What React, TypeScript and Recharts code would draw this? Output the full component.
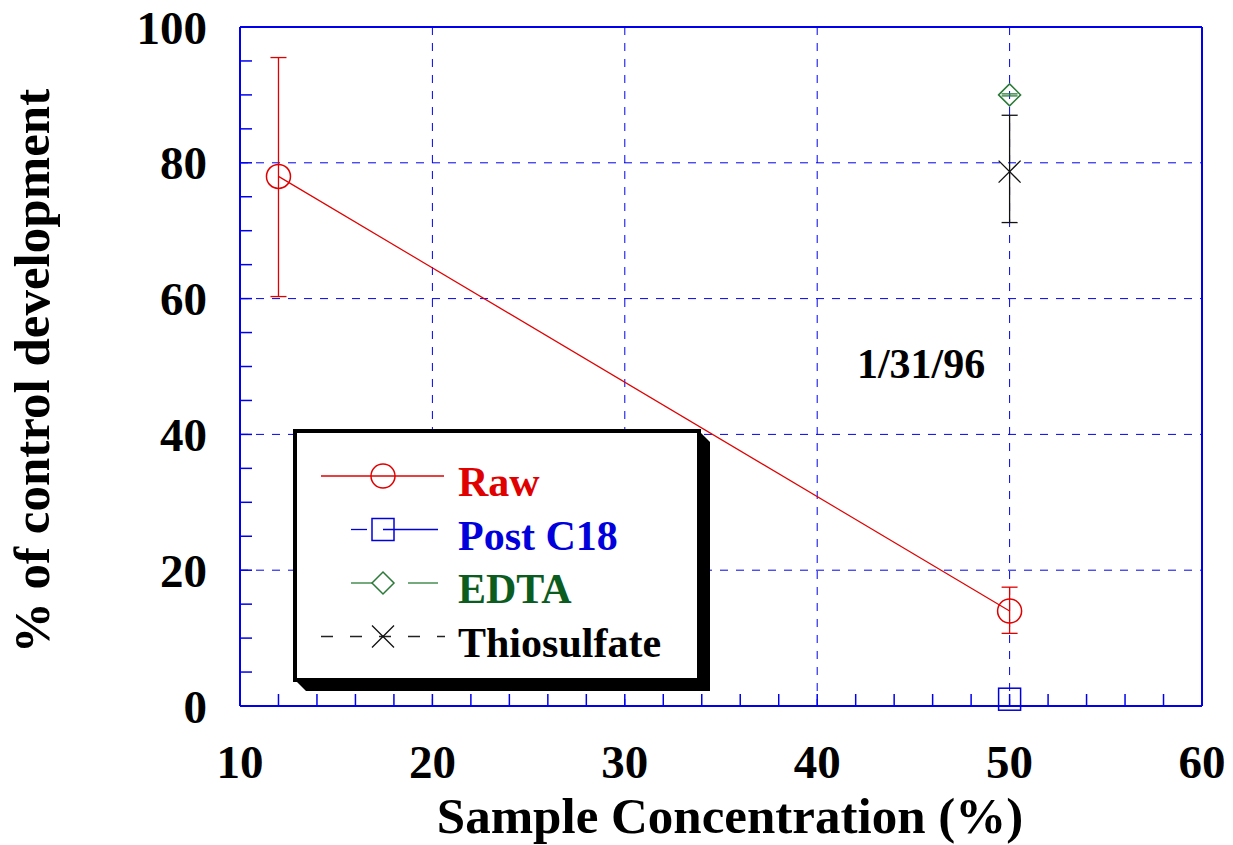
import React from 'react'
import { ComposedChart, Scatter, XAxis, YAxis, CartesianGrid, ErrorBar, Legend, ReferenceDot, Label } from 'recharts'

// values
const RAW_X = [12, 50]
const RAW_Y = [78, 14]
const RAW_LOW = [60.3, 10.7]
const RAW_HIGH = [95.5, 17.5]

const C18_X = [50]
const C18_Y = [1]

const EDTA_X = [50]
const EDTA_Y = [90]
const EDTA_LOW = [89.85]
const EDTA_HIGH = [90.15]

const THIO_X = [50]
const THIO_Y = [78.7]
const THIO_LOW = [71.2]
const THIO_HIGH = [87]

const X_TICKS = [10, 12, 14, 16, 18, 20, 22, 24, 26, 28, 30, 32, 34, 36, 38, 40, 42, 44, 46, 48, 50, 52, 54, 56, 58, 60]
const Y_TICKS = [0, 5, 10, 15, 20, 25, 30, 35, 40, 45, 50, 55, 60, 65, 70, 75, 80, 85, 90, 95, 100]
const X_GRID = [20, 30, 40, 50]
const Y_GRID = [20, 40, 60, 80]

const FONT = '"Liberation Serif", "Times New Roman", serif'
const RED = '#e00000'
const BLUE = '#0000dd'
const GREEN_TXT = '#0b5c1f'
const GREEN = '#2a7a38'
const FRAME = '#0000ee'

const pts = (xs, ys, lo?, hi?) =>
  xs.map((x, i) => ({ x, y: ys[i], err: lo ? [ys[i] - lo[i], hi[i] - ys[i]] : undefined }))

const rawData = pts(RAW_X, RAW_Y, RAW_LOW, RAW_HIGH)
const c18Data = pts(C18_X, C18_Y)
const edtaData = pts(EDTA_X, EDTA_Y, EDTA_LOW, EDTA_HIGH)
const thioData = pts(THIO_X, THIO_Y, THIO_LOW, THIO_HIGH)

const circle = (cx, cy) => <circle cx={cx} cy={cy} r={12} fill="none" stroke={RED} strokeWidth={1.5} />
const square = (cx, cy) => <rect x={cx - 11} y={cy - 11} width={22} height={22} fill="none" stroke={BLUE} strokeWidth={1.5} />
const diamond = (cx, cy) => (
  <polygon points={`${cx - 11},${cy} ${cx},${cy - 11} ${cx + 11},${cy} ${cx},${cy + 11}`} fill="none" stroke={GREEN} strokeWidth={1.5} />
)
const cross = (cx, cy) => (
  <path d={`M${cx - 11},${cy - 11}L${cx + 11},${cy + 11}M${cx - 11},${cy + 11}L${cx + 11},${cy - 11}`} stroke="#111" strokeWidth={1.3} />
)

const SERIES = [
  { name: 'Raw', color: RED, txt: RED, mark: circle, segs: [[31, 154]], dash: undefined },
  { name: 'Post C18', color: BLUE, txt: BLUE, mark: square, segs: [[61, 77], [93, 148]], dash: undefined },
  { name: 'EDTA', color: GREEN, txt: GREEN_TXT, mark: diamond, segs: [[61, 83], [118, 148]], dash: undefined },
  { name: 'Thiosulfate', color: '#222', txt: '#000', mark: cross, segs: [[31, 155]], dash: '12 17' },
]

function LegendBox() {
  const l = 5, t = 6, w = 404, h = 249, s = 11
  return (
    <svg width={430} height={275} style={{ display: 'block' }}>
      <polygon
        points={`${l + w},${t} ${l + w + s},${t + s} ${l + w + s},${t + h + s} ${l + s},${t + h + s} ${l},${t + h}`}
        fill="#000"
      />
      <rect x={l} y={t} width={w} height={h} fill="#fff" stroke="#000" strokeWidth={4} />
      {SERIES.map((sr, i) => {
        const ly = 51 + i * 53.5
        return (
          <g key={sr.name}>
            {sr.segs.map((sg, j) => (
              <line key={j} x1={sg[0]} x2={sg[1]} y1={ly} y2={ly} stroke={sr.color} strokeWidth={1.3} strokeDasharray={sr.dash} />
            ))}
            {sr.mark(93, ly)}
            <text x={168} y={ly + 20} fill={sr.txt} fontFamily={FONT} fontWeight="bold" fontSize={42}>{sr.name}</text>
          </g>
        )
      })}
    </svg>
  )
}

const tickStyle = { fill: '#000', fontSize: 47, fontWeight: 'bold', fontFamily: FONT }

export default function App() {
  return (
    <div style={{ position: 'absolute', left: 0, top: 0, background: '#fff' }}>
      <ComposedChart width={1233} height={845} margin={{ top: 26, right: 30, left: 0, bottom: 0 }}>
        <CartesianGrid
          stroke={FRAME}
          strokeDasharray="8 8"
          verticalValues={X_GRID}
          horizontalValues={Y_GRID}
          vertical
          horizontal
        />
        <XAxis
          dataKey="x"
          type="number"
          domain={[10, 60]}
          ticks={X_TICKS}
          interval={0}
          height={139}
          tickSize={-12}
          tickMargin={51}
          tickFormatter={(v) => (v % 10 === 0 ? String(v) : '')}
          tick={tickStyle}
          stroke={FRAME}
          axisLine={{ stroke: FRAME, strokeWidth: 2 }}
          tickLine={{ stroke: FRAME, strokeWidth: 1.5 }}
        >
          <Label
            content={() => (
              <text x={730} y={833} textAnchor="middle" fontFamily={FONT} fontWeight="bold" fontSize={51} fill="#000">
                Sample Concentration (%)
              </text>
            )}
          />
        </XAxis>
        <XAxis
          xAxisId="top"
          orientation="top"
          type="number"
          domain={[10, 60]}
          ticks={X_TICKS}
          interval={0}
          height={1}
          tickSize={-12}
          tick={false}
          axisLine={{ stroke: FRAME, strokeWidth: 2 }}
          tickLine={{ stroke: FRAME, strokeWidth: 1.5 }}
        />
        <YAxis
          dataKey="y"
          type="number"
          domain={[0, 100]}
          ticks={Y_TICKS}
          interval={0}
          width={240}
          tickSize={-12}
          tickMargin={45}
          tickFormatter={(v) => (v % 20 === 0 ? String(v) : '')}
          tick={tickStyle}
          axisLine={{ stroke: FRAME, strokeWidth: 2 }}
          tickLine={{ stroke: FRAME, strokeWidth: 1.5 }}
        >
          <Label
            content={() => (
              <text x={49} y={371} transform="rotate(-90, 49, 371)" textAnchor="middle" fontFamily={FONT} fontWeight="bold" fontSize={51} fill="#000">
                % of control development
              </text>
            )}
          />
        </YAxis>
        <YAxis
          yAxisId="right"
          orientation="right"
          type="number"
          domain={[0, 100]}
          ticks={Y_TICKS}
          interval={0}
          width={1}
          tickSize={-12}
          tick={false}
          axisLine={{ stroke: FRAME, strokeWidth: 2 }}
          tickLine={{ stroke: FRAME, strokeWidth: 1.5 }}
        />

        <Scatter name="Raw" data={rawData} isAnimationActive={false} line={{ stroke: RED, strokeWidth: 1.2 }} lineType="joint"
          shape={(p) => circle(p.cx, p.cy)}>
          <ErrorBar dataKey="err" direction="y" width={8} stroke={RED} strokeWidth={1.3} isAnimationActive={false} />
        </Scatter>
        <Scatter name="Post C18" data={c18Data} isAnimationActive={false} shape={(p) => square(p.cx, p.cy)} />
        <Scatter name="EDTA" data={edtaData} isAnimationActive={false} shape={(p) => diamond(p.cx, p.cy)}>
          <ErrorBar dataKey="err" direction="y" width={8} stroke={GREEN} strokeWidth={1.3} isAnimationActive={false} />
        </Scatter>
        <Scatter name="Thiosulfate" data={thioData} isAnimationActive={false} shape={(p) => cross(p.cx, p.cy)}>
          <ErrorBar dataKey="err" direction="y" width={8} stroke="#111" strokeWidth={1.3} isAnimationActive={false} />
        </Scatter>

        <ReferenceDot x={45.4} y={50.5} r={0} fill="none" stroke="none"
          label={{ value: '1/31/96', position: 'center', fill: '#000', fontSize: 42, fontWeight: 'bold', fontFamily: FONT }} />

        <Legend
          layout="vertical"
          align="center"
          verticalAlign="middle"
          content={() => <LegendBox />}
          wrapperStyle={{ left: 290, top: 425, width: 430, height: 275 }}
        />
      </ComposedChart>
    </div>
  )
}
